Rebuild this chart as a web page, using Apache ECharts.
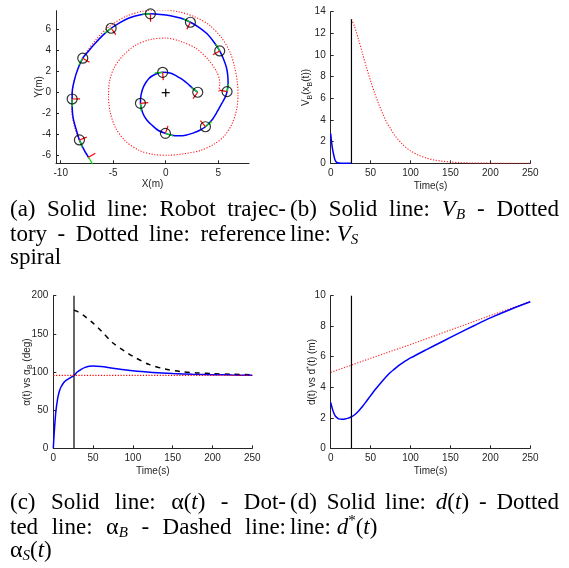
<!DOCTYPE html>
<html><head><meta charset="utf-8">
<script src="https://cdn.jsdelivr.net/npm/echarts@6/dist/echarts.min.js"></script>
<style>html,body{margin:0;padding:0;background:#fff}#c{width:569px;height:568px}</style>
</head><body><div id="c"></div>
<script>
// ---------------- DATA ----------------
// (a) reference spiral (dotted red), x,y in metres
const spiralRef = [[5.05,0.1],[5.15,0.9],[4.85,2.0],[4.0,3.2],[2.9,4.2],[1.5,4.85],[0.0,5.2],[-1.5,5.05],[-2.9,4.5],[-4.0,3.6],[-4.9,2.4],[-5.35,1.1],[-5.45,-0.3],[-5.3,-1.8],[-4.8,-3.3],[-3.84,-4.6],[-2.5,-5.5],[-1.0,-5.9],[0.3,-5.95],[1.8,-5.8],[3.3,-5.5],[4.6,-4.9],[5.55,-4.15],[6.3,-3.0],[6.75,-1.6],[6.88,-0.3],[6.82,1.0],[6.55,2.5],[6.1,3.9],[5.3,5.25],[4.2,6.4],[2.8,7.2],[1.2,7.7],[-0.5,7.88],[-2.2,7.75],[-3.8,7.25],[-5.3,6.35],[-6.6,5.1],[-7.7,3.6],[-8.5,1.9],[-8.9,0.1],[-8.95,-1.6],[-8.7,-3.2],[-8.2,-4.6],[-7.6,-5.8],[-7.3,-6.3]];
// (a) robot trajectory (solid blue)
const robotPath = [[3.05,0.04],[2.6,0.38],[2.1,0.85],[1.6,1.25],[1.08,1.55],[0.5,1.85],[-0.29,1.94],[-1.0,1.75],[-1.6,1.35],[-2.1,0.6],[-2.35,-0.2],[-2.41,-1.01],[-2.2,-1.9],[-1.8,-2.6],[-1.3,-3.1],[-0.7,-3.6],[-0.03,-3.87],[0.6,-4.05],[1.2,-4.1],[1.9,-4.05],[2.6,-3.85],[3.2,-3.6],[3.78,-3.24],[4.4,-2.6],[4.9,-1.81],[5.35,-1.0],[5.68,-0.4],[5.84,0.1],[5.94,0.9],[5.9,1.7],[5.78,2.4],[5.5,3.2],[5.14,3.97],[4.6,4.8],[3.94,5.6],[3.2,6.2],[2.35,6.7],[1.4,7.1],[0.45,7.33],[-0.5,7.45],[-1.46,7.5],[-2.5,7.4],[-3.5,7.1],[-4.4,6.65],[-5.2,6.13],[-6.0,5.45],[-6.8,4.6],[-7.4,3.9],[-7.9,3.28],[-8.35,2.3],[-8.7,1.2],[-8.91,0.0],[-8.91,-0.6],[-8.9,-1.6],[-8.8,-2.5],[-8.5,-3.6],[-8.22,-4.5],[-7.8,-5.4],[-7.35,-6.15]];
// (a) sampled robot poses (black circles)
const robotMarks = [[3.05,0.04],[-0.29,1.94],[-2.41,-1.01],[-0.03,-3.87],[3.78,-3.24],[5.84,0.1],[5.14,3.97],[2.35,6.7],[-1.46,7.5],[-5.2,6.13],[-7.9,3.28],[-8.91,-0.6],[-8.22,-4.5]];
const beacon = [[0,0]];
const xTicksA = [-10,-5,0,5];
const yTicksA = [-6,-4,-2,0,2,4,6];

// (b) V_B (solid blue) and V_S (dotted red)
const tVB = [0,1,2,3,4,5,6,7,8,10,13,18,26];
const vB  = [2.75,2.0,1.45,1.05,0.7,0.4,0.22,0.12,0.07,0.03,0.01,0,0];
const tVS = [26,30,35,40,45,50,55,60,65,70,75,80,90,100,110,120,130,140,150,160,175,200,225,250];
const vS  = [13.3,12.6,11.4,10.1,8.8,7.6,6.5,5.5,4.6,3.8,3.2,2.6,1.75,1.15,0.75,0.48,0.3,0.19,0.12,0.07,0.03,0.01,0,0];
const switchTime = 26;

// (c) alpha(t) solid blue, alpha_B dotted red, alpha_S dashed black (deg)
const tAlpha = [0,1,2,3,4,5,6,8,10,13,16,20,26,30,35,40,45,50,60,75,100,125,150,175,200,225,250];
const alpha  = [0,18,33,46,55,62,68,76,81,86,89,91.5,95.5,100,103.5,106,107.5,108,107.2,105,101.7,99.5,98,97,96.5,96,95.7];
const alphaB = 95.5;
const tAlphaS = [26,30,40,50,60,75,90,100,120,140,160,180,200,225,250];
const alphaS  = [181,179.5,172.5,164,154,138,127,120.5,110,104,100.5,98.8,97.8,97,96.5];

// (d) d(t) solid blue, d*(t) dotted red (m)
const tD = [0,2,4,6,8,10,14,18,22,26,30,35,40,45,50,55,60,65,70,75,80,85,90,100,120,140,160,180,200,225,250];
const dVal = [3.0,2.6,2.3,2.1,2.0,1.93,1.9,1.92,1.98,2.07,2.2,2.45,2.75,3.1,3.45,3.8,4.12,4.43,4.72,4.98,5.2,5.42,5.6,5.92,6.47,7.0,7.53,8.05,8.55,9.1,9.6];
const tDStar = [0,26,50,100,150,200,250];
const dStar  = [4.98,5.45,5.9,6.8,7.75,8.7,9.62];

const timeTicks = {min:0,max:250,interval:50};
const vTicks = {min:0,max:14,interval:2};
const aTicks = {min:0,max:200,interval:50};
const dTicks = {min:0,max:10,interval:2};

// ---------------- CHART ----------------
const zip = (a,b) => a.map((v,i)=>[v,b[i]]);
const AX = '#262626';
const RED = '#ff1a1a';
const sansRich = {
  n:{fontSize:10,lineHeight:14,fontFamily:'Liberation Sans',color:AX},
  s:{fontSize:7,lineHeight:7,verticalAlign:'bottom',fontFamily:'Liberation Sans',color:AX},
  p:{fontSize:7,lineHeight:7,verticalAlign:'top',fontFamily:'Liberation Sans',color:AX}
};
function axis(gi, rng, name, gap, extra){
  return Object.assign({
    type:'value', gridIndex:gi, min:rng.min, max:rng.max, interval:rng.interval,
    name:name, nameLocation:'middle', nameGap:gap, nameMoveOverlap:false,
    nameTextStyle:{fontSize:10,fontFamily:'Liberation Sans',color:AX,rich:sansRich},
    axisLine:{show:true,onZero:false,lineStyle:{color:AX,width:1}},
    axisTick:{show:true,inside:true,length:3,lineStyle:{color:AX}},
    axisLabel:{color:AX,fontSize:10,fontFamily:'Liberation Sans',margin:5},
    splitLine:{show:false}
  }, extra||{});
}
const xA = axis(0,{min:-10.45,max:7.93},'X(m)',16,{axisLabel:{color:AX,fontSize:10,fontFamily:'Liberation Sans',margin:5,customValues:xTicksA},axisTick:{show:true,inside:true,length:3,lineStyle:{color:AX},customValues:xTicksA}});
delete xA.interval;
const yA = axis(0,{min:-6.72,max:7.8},'Y(m)',12,{axisLabel:{color:AX,fontSize:10,fontFamily:'Liberation Sans',margin:5,customValues:yTicksA},axisTick:{show:true,inside:true,length:3,lineStyle:{color:AX},customValues:yTicksA}});
delete yA.interval;

function nearestIdx(p){
  let best=0,bd=1e9;
  robotPath.forEach((q,i)=>{const d=(q[0]-p[0])**2+(q[1]-p[1])**2; if(d<bd){bd=d;best=i;}});
  return best;
}
const poses = robotMarks.concat([robotPath[robotPath.length-1]]);
const arrowSegs = [];
poses.forEach(p=>{
  const i = nearestIdx(p);
  const a = robotPath[Math.max(0,i-1)], b = robotPath[Math.min(robotPath.length-1,i+1)];
  let hx=b[0]-a[0], hy=b[1]-a[1]; const L=Math.hypot(hx,hy)||1; hx/=L; hy/=L;
  arrowSegs.push([p[0],p[1],p[0]+0.75*hx,p[1]+0.75*hy,0]);
  arrowSegs.push([p[0],p[1],p[0]-0.75*hy,p[1]+0.75*hx,1]);
});

const series = [
  {type:'line',xAxisIndex:0,yAxisIndex:0,data:spiralRef,showSymbol:false,smooth:0.3,lineStyle:{color:RED,width:1.1,type:[1.2,1.6]},z:2},
  {type:'line',xAxisIndex:0,yAxisIndex:0,data:robotPath,showSymbol:false,smooth:0.3,lineStyle:{color:'#0000ff',width:1.5},z:3},
  {type:'custom',xAxisIndex:0,yAxisIndex:0,data:arrowSegs,encode:{x:[0,2],y:[1,3]},z:4,
    renderItem:(params,api)=>{const p0=api.coord([api.value(0),api.value(1)]),p1=api.coord([api.value(2),api.value(3)]);
      return {type:'line',shape:{x1:p0[0],y1:p0[1],x2:p1[0],y2:p1[1]},style:{stroke:api.value(4)?'#ff0000':'#00dd00',lineWidth:1.2}};}},
  {type:'scatter',xAxisIndex:0,yAxisIndex:0,data:robotMarks,symbol:'circle',symbolSize:10,itemStyle:{color:'rgba(0,0,0,0)',borderColor:'#000',borderWidth:1.2},z:5},
  {type:'custom',xAxisIndex:0,yAxisIndex:0,data:beacon,z:5,
    renderItem:(params,api)=>{const p=api.coord([api.value(0),api.value(1)]);
      return {type:'group',children:[
        {type:'line',shape:{x1:p[0]-4,y1:p[1],x2:p[0]+4,y2:p[1]},style:{stroke:'#000',lineWidth:1.2}},
        {type:'line',shape:{x1:p[0],y1:p[1]-4,x2:p[0],y2:p[1]+4},style:{stroke:'#000',lineWidth:1.2}}]};}},
  // (b)
  {type:'line',xAxisIndex:1,yAxisIndex:1,data:zip(tVB,vB),showSymbol:false,smooth:0.3,lineStyle:{color:'#0000ff',width:1.5}},
  {type:'line',xAxisIndex:1,yAxisIndex:1,data:zip(tVS,vS),showSymbol:false,smooth:0.3,lineStyle:{color:RED,width:1.1,type:[1.2,1.6]}},
  {type:'line',xAxisIndex:1,yAxisIndex:1,data:[[switchTime,0],[switchTime,vS[0]]],showSymbol:false,lineStyle:{color:'#000',width:1.2}},
  // (c)
  {type:'line',xAxisIndex:2,yAxisIndex:2,data:zip(tAlphaS,alphaS),showSymbol:false,smooth:0.3,lineStyle:{color:'#000',width:1.5,type:[5,5]}},
  {type:'line',xAxisIndex:2,yAxisIndex:2,data:zip(tAlpha,alpha),showSymbol:false,smooth:0.3,lineStyle:{color:'#0000ff',width:1.5}},
  {type:'line',xAxisIndex:2,yAxisIndex:2,data:[[timeTicks.min,alphaB],[timeTicks.max,alphaB]],showSymbol:false,lineStyle:{color:'#ff0000',width:1.2,type:[1.2,1.6]},z:4},
  {type:'line',xAxisIndex:2,yAxisIndex:2,data:[[switchTime,aTicks.min],[switchTime,aTicks.max]],showSymbol:false,lineStyle:{color:'#000',width:1.2}},
  // (d)
  {type:'line',xAxisIndex:3,yAxisIndex:3,data:zip(tDStar,dStar),showSymbol:false,lineStyle:{color:RED,width:1.1,type:[1.2,1.6]}},
  {type:'line',xAxisIndex:3,yAxisIndex:3,data:zip(tD,dVal),showSymbol:false,smooth:0.3,lineStyle:{color:'#0000ff',width:1.5}},
  {type:'line',xAxisIndex:3,yAxisIndex:3,data:[[switchTime,dTicks.min],[switchTime,dTicks.max]],showSymbol:false,lineStyle:{color:'#000',width:1.2}}
];
series.forEach(s=>{s.animation=false;s.silent=true;});

// ---------------- CAPTIONS ----------------
const LX0 = 10, LX1 = 286, RX0 = 290, RX1 = 559;
const captionLines = [
  {x0:LX0,x1:LX1,y:210,j:true,s:'(a) Solid line: Robot trajec-'},
  {x0:LX0,x1:LX1,y:235,j:true,s:'tory - Dotted line: reference'},
  {x0:LX0,x1:LX1,y:258,j:false,s:'spiral'},
  {x0:RX0,x1:RX1,y:210,j:true,s:'(b) Solid line: {i:V}{s:B} - Dotted'},
  {x0:RX0,x1:RX1,y:235,j:false,s:'line: {i:V}{s:S}'},
  {x0:LX0,x1:LX1,y:503,j:true,s:'(c) Solid line: {g:α}({i:t}) - Dot-'},
  {x0:LX0,x1:LX1,y:528,j:true,s:'ted line: {g:α}{s:B} - Dashed line:'},
  {x0:LX0,x1:LX1,y:551,j:false,s:'{g:α}{s:S}({i:t})'},
  {x0:RX0,x1:RX1,y:503,j:true,s:'(d) Solid line: {i:d}({i:t}) - Dotted'},
  {x0:RX0,x1:RX1,y:528,j:false,s:'line: {i:d}{p:*}({i:t})'}
];
const FS = 23;
const K = {r:{st:'normal',sz:FS,dy:0},i:{st:'italic',sz:FS,dy:0},s:{st:'italic',sz:15,dy:5},p:{st:'normal',sz:15,dy:-7},g:{st:'normal',sz:FS+1,dy:0}};
const fontOf = k => `${K[k].st} ${K[k].sz}px "Liberation Serif"`;
const mctx = document.createElement('canvas').getContext('2d');
function mw(t,k){mctx.font=fontOf(k);return mctx.measureText(t).width;}
function parseWord(w){const out=[];const re=/\{(\w):([^}]*)\}|([^{]+)/g;let m;while((m=re.exec(w))){if(m[3])out.push({t:m[3],k:'r'});else out.push({t:m[2],k:m[1]});}return out;}
const graphics = [];
captionLines.forEach(L=>{
  const words = L.s.split(' ').map(parseWord);
  const widths = words.map(w=>w.reduce((a,p)=>a+mw(p.t,p.k),0));
  const total = widths.reduce((a,b)=>a+b,0);
  const gap = L.j && words.length>1 ? (L.x1-L.x0-total)/(words.length-1) : mw(' ','r');
  let x = L.x0;
  words.forEach((w,wi)=>{
    w.forEach(p=>{
      graphics.push({type:'text',x:x,y:L.y+K[p.k].dy,silent:true,style:{text:p.t,font:fontOf(p.k),fill:'#000',align:'left',verticalAlign:'middle'}});
      x += mw(p.t,p.k);
    });
    x += gap;
  });
});

const option = {
  animation:false,
  backgroundColor:'#fff',
  grid:[
    {left:56,top:10.7,width:193,height:152.6},
    {left:330.7,top:11.7,width:199.6,height:151.6},
    {left:53.3,top:295.7,width:199,height:152.6},
    {left:330.7,top:295.7,width:199.6,height:152.6}
  ],
  xAxis:[xA, axis(1,timeTicks,'Time(s)',18), axis(2,timeTicks,'Time(s)',18), axis(3,timeTicks,'Time(s)',18)],
  yAxis:[yA,
    axis(1,vTicks,'{n|V}{s|B}{n|(x}{s|B}{n|(t))}',17),
    axis(2,aTicks,'{n|α(t) vs α}{s|B}{n| (deg)}',19.5),
    axis(3,dTicks,'{n|d(t) vs d}{p|*}{n|(t) (m)}',11.5)],
  series:series,
  graphic:graphics
};
const chart = echarts.init(document.getElementById('c'));
chart.setOption(option);
</script></body></html>
